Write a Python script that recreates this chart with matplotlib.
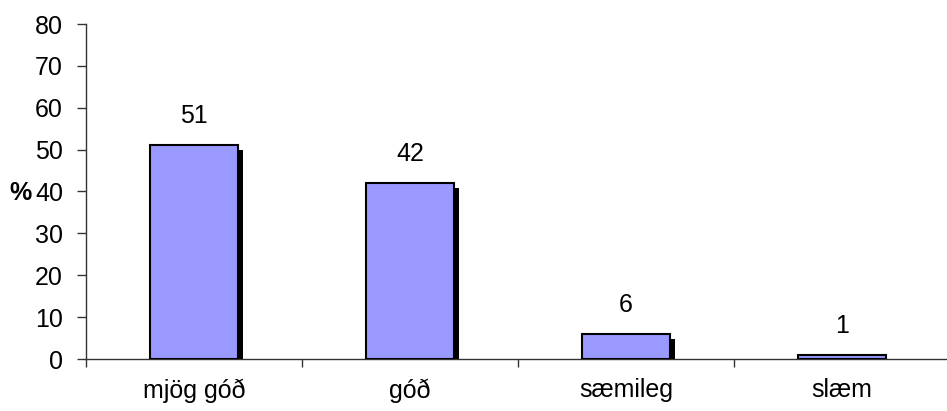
import matplotlib
matplotlib.use('Agg')
import matplotlib.pyplot as plt
import matplotlib.transforms as mtransforms
import numpy as np

categories = ['mjög góð', 'góð', 'sæmileg', 'slæm']
values = [51, 42, 6, 1]
yticks = [0, 10, 20, 30, 40, 50, 60, 70, 80]

plt.rcParams['font.family'] = ['Liberation Sans', 'DejaVu Sans']
FS = 18

fig = plt.figure(figsize=(9.47, 4.11), dpi=100)
ax = fig.add_axes([86 / 947, 52 / 411, 864 / 947, 335 / 411])

x = np.arange(len(categories))
width = 0.407

# shadow: same bars shifted right and down a few pixels
shadow_tr = mtransforms.offset_copy(ax.transData, fig=fig, x=5, y=-5, units='dots')
ax.bar(x, values, width=width, color='black', linewidth=0, transform=shadow_tr, zorder=2)
ax.bar(x, values, width=width, color='#9999ff', edgecolor='black', linewidth=1.5, zorder=3)

for xi, v in zip(x, values):
    ax.annotate(str(v), (xi, v), xytext=(0, 21), textcoords='offset points',
                ha='center', va='center', fontsize=FS)

ax.set_xlim(-0.5, len(categories) - 0.5)
ax.set_ylim(0, 80)
ax.set_yticks(yticks)
ax.set_yticklabels([str(t) for t in yticks], fontsize=FS)

ax.set_xticks(np.arange(len(categories) + 1) - 0.5)
ax.set_xticklabels([])
ax.set_xticks(x, minor=True)
ax.set_xticklabels(categories, minor=True, fontsize=FS)
ax.tick_params(axis='x', which='minor', length=0, pad=14)
ax.tick_params(axis='x', which='major', length=6, width=1, color='#333333', direction='out')
ax.tick_params(axis='y', length=6.5, width=1, color='#333333', direction='out', pad=10)

for side in ['top', 'right']:
    ax.spines[side].set_visible(False)
for side in ['left', 'bottom']:
    ax.spines[side].set_color('#333333')
    ax.spines[side].set_linewidth(1)

fig.text(20 / 947, 1 - 193 / 411, '%', fontsize=FS, fontweight='bold', ha='center', va='center')

fig.savefig('out.png', dpi=100)
